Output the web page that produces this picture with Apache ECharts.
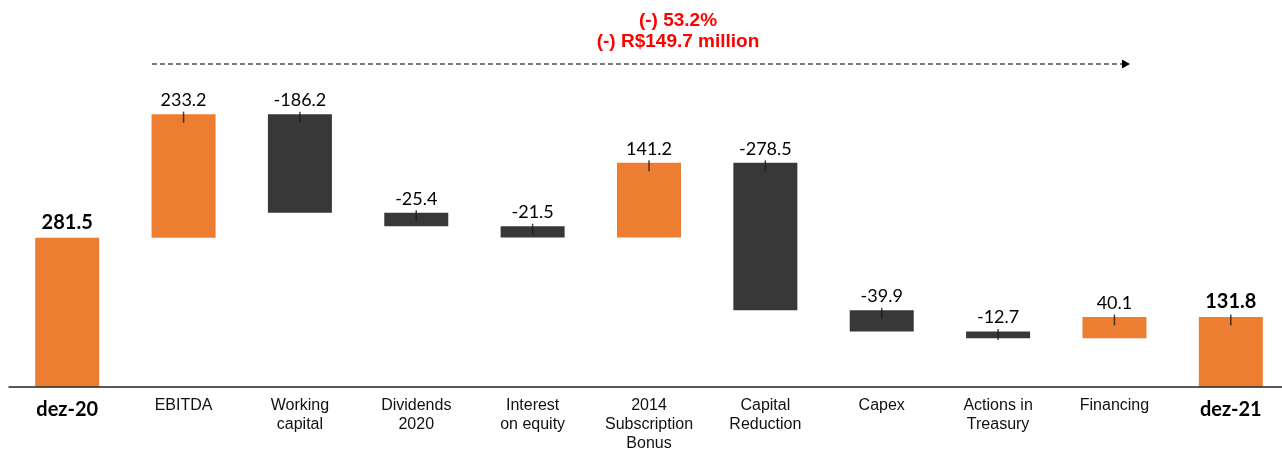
<!DOCTYPE html>
<html>
<head>
<meta charset="utf-8">
<script src="https://cdn.jsdelivr.net/npm/echarts@6/dist/echarts.min.js"></script>
<style>
  html, body { margin: 0; padding: 0; background: #fff; }
  #main { width: 1282px; height: 450px; }
</style>
</head>
<body>
<div id="main"></div>
<script>
// categorias e variações (R$ milhões)
var categories = ['dez-20', 'EBITDA', 'Working\ncapital', 'Dividends\n2020', 'Interest\non equity',
  '2014\nSubscription\nBonus', 'Capital\nReduction', 'Capex', 'Actions in\nTreasury', 'Financing', 'dez-21'];
var deltas = [281.5, 233.2, -186.2, -25.4, -21.5, 141.2, -278.5, -39.9, -12.7, 40.1, 131.8];
var valueLabels = ['281.5', '233.2', '-186.2', '-25.4', '-21.5', '141.2', '-278.5', '-39.9', '-12.7', '40.1', '131.8'];

var ORANGE = '#ED7D31';
var DARK = '#383838';

// monta a cascata
var base = [], visible = [], ticks = [];
var cum = 0;
for (let i = 0; i < deltas.length; i++) {
  let d = deltas[i];
  if (i === 0 || i === deltas.length - 1) {
    base.push(0);
    visible.push({ value: d, itemStyle: { color: ORANGE } });
    cum = d;
    if (i > 0) ticks.push([i, d]);
    continue;
  }
  if (d >= 0) {
    base.push(cum);
    visible.push({ value: d, itemStyle: { color: ORANGE } });
    cum += d;
    ticks.push([i, cum]);
  } else {
    ticks.push([i, cum]);
    cum += d;
    base.push(cum);
    visible.push({ value: -d, itemStyle: { color: DARK } });
  }
}

var myChart = echarts.init(document.getElementById('main'));
var option = {
  animation: false,
  grid: { left: 9, right: -7, top: 16, bottom: 63.3, outerBoundsMode: 'none', containLabel: false },
  xAxis: {
    type: 'category',
    data: categories,
    z: 5,
    axisLine: { lineStyle: { color: '#222', width: 1.5 } },
    axisTick: { show: false },
    axisLabel: {
      interval: 0,
      margin: 9,
      color: '#111',
      fontFamily: '"Liberation Sans", Arial, sans-serif',
      fontSize: 16,
      lineHeight: 19,
      formatter: function (val, idx) {
        if (idx === 0 || idx === categories.length - 1) return '{b|' + val + '}';
        return val;
      },
      rich: {
        b: { fontFamily: 'Lato, sans-serif', fontWeight: 'bold', fontSize: 20, color: '#000', lineHeight: 28 }
      }
    }
  },
  yAxis: { type: 'value', min: 0, max: 700, show: false, splitLine: { show: false } },
  series: [
    {
      type: 'bar', stack: 'w', data: base, barWidth: 64,
      itemStyle: { color: 'transparent' }, silent: true
    },
    {
      type: 'bar', stack: 'w', data: visible, barWidth: 64,
      label: {
        show: true,
        position: 'top',
        distance: 5,
        fontFamily: 'Lato, sans-serif',
        fontSize: 18,
        color: '#000',
        formatter: function (p) {
          var t = valueLabels[p.dataIndex];
          if (p.dataIndex === 0 || p.dataIndex === categories.length - 1) return '{b|' + t + '}';
          return t;
        },
        rich: { b: { fontFamily: 'Lato, sans-serif', fontWeight: 'bold', fontSize: 20, color: '#000' } }
      }
    },
    {
      type: 'scatter', data: ticks, symbol: 'rect', symbolSize: [1.5, 11], symbolOffset: [0, 3],
      itemStyle: { color: '#1a1a1a' }, z: 4, silent: true
    }
  ],
  graphic: [
    {
      type: 'line', shape: { x1: 152, y1: 64, x2: 1124, y2: 64 },
      style: { stroke: '#555', lineWidth: 1.5, lineDash: [5, 3] }
    },
    {
      type: 'polygon', shape: { points: [[1122, 59.5], [1130, 64], [1122, 68.5]] },
      style: { fill: '#000' }
    },
    {
      type: 'text', x: 678, y: 21,
      style: {
        text: '(-) 53.2%', fill: '#FF0000', textAlign: 'center', textVerticalAlign: 'middle',
        font: 'bold 19px "Liberation Sans", Arial, sans-serif'
      }
    },
    {
      type: 'text', x: 678, y: 42,
      style: {
        text: '(-) R$149.7 million', fill: '#FF0000', textAlign: 'center', textVerticalAlign: 'middle',
        font: 'bold 19px "Liberation Sans", Arial, sans-serif'
      }
    }
  ]
};
myChart.setOption(option);
</script>
</body>
</html>
